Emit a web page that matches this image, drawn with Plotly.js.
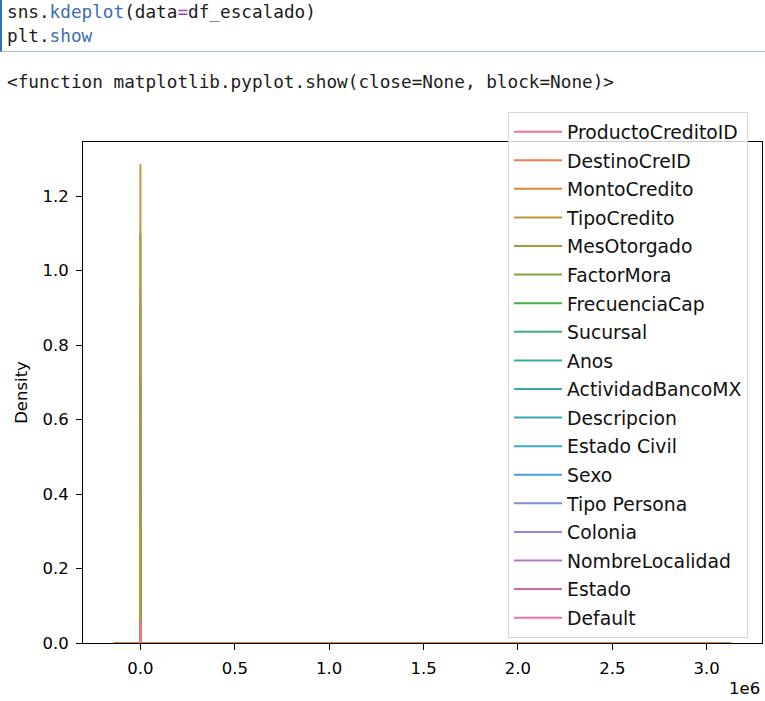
<!DOCTYPE html>
<html>
<head>
<meta charset="utf-8">
<script src="https://cdn.plot.ly/plotly-3.0.1.min.js"></script>
<style>
  html, body { margin:0; padding:0; background:#fff; }
  body { width:765px; height:701px; overflow:hidden; position:relative; }
  #plot { position:absolute; left:0; top:0; width:765px; height:701px; }
  .cell { position:absolute; left:0; top:0; width:765px; height:52px; box-sizing:border-box;
          border-left:2px solid #2a6fc9; border-bottom:1px solid #9fbde6; z-index:5; }
  .mono { position:absolute; left:7px; font-family:"DejaVu Sans Mono", monospace; font-size:17.7px;
          line-height:24px; color:#1b1b1b; white-space:pre; z-index:6; }
  .fn { color:#3b6db4; }
  .op { color:#a23fbf; }
</style>
</head>
<body>
<div id="plot"></div>
<div class="cell"></div>
<div class="mono" style="top:0px">sns.<span class="fn">kdeplot</span>(data<span class="op">=</span>df_escalado)</div>
<div class="mono" style="top:24px">plt.<span class="fn">show</span></div>
<div class="mono" style="top:70px">&lt;function matplotlib.pyplot.show(close=None, block=None)&gt;</div>
<script>
// ---- Data ----
const seriesNames = ["ProductoCreditoID","DestinoCreID","MontoCredito","TipoCredito","MesOtorgado",
  "FactorMora","FrecuenciaCap","Sucursal","Anos","ActividadBancoMX","Descripcion","Estado Civil",
  "Sexo","Tipo Persona","Colonia","NombreLocalidad","Estado","Default"];

// standardized columns: grid of scaled values (tiny on a 1e6 axis) and their densities
const zGrid = [-3, -2, -1, 0, 1, 2, 3];
const densProductoCreditoID = [0, 0.01, 0.03, 0.06, 0.03, 0.01, 0];
const densDestinoCreID      = [0, 0.01, 0.03, 0.05, 0.03, 0.01, 0];
const densTipoCredito       = [0, 0.02, 0.30, 1.285, 0.25, 0.02, 0];
const densMesOtorgado       = [0, 0.05, 0.22, 0.35, 0.22, 0.05, 0];
const densFactorMora        = [0, 0.04, 0.40, 0.90, 0.30, 0.03, 0];
const densFrecuenciaCap     = [0, 0.03, 0.45, 1.10, 0.35, 0.02, 0];
const densSucursal          = [0, 0.06, 0.28, 0.42, 0.26, 0.05, 0];
const densAnos              = [0, 0.06, 0.26, 0.40, 0.25, 0.07, 0];
const densActividadBancoMX  = [0, 0.04, 0.30, 0.60, 0.28, 0.04, 0];
const densDescripcion       = [0, 0.04, 0.31, 0.60, 0.27, 0.04, 0];
const densEstadoCivil       = [0, 0.05, 0.28, 0.50, 0.30, 0.05, 0];
const densSexo              = [0, 0.02, 0.40, 0.95, 0.40, 0.02, 0];
const densTipoPersona       = [0, 0.03, 0.10, 0.17, 0.12, 0.03, 0];
const densColonia           = [0, 0.06, 0.24, 0.33, 0.22, 0.06, 0];
const densNombreLocalidad   = [0, 0.07, 0.22, 0.30, 0.21, 0.06, 0];
const densEstado            = [0, 0.04, 0.35, 0.70, 0.33, 0.04, 0];
const densDefault           = [0, 0.02, 0.30, 0.90, 0.25, 0.02, 0];

// MontoCredito was left unscaled: spans about -0.14e6 .. 3.13e6 with a near-zero density
const xMontoCredito    = [-140500, 0, 250000, 500000, 1000000, 1500000, 2000000, 2500000, 3130000];
const densMontoCredito = [0, 1.6e-6, 1.2e-6, 6e-7, 2e-7, 8e-8, 3e-8, 1e-8, 0];

const xTickVals = [0, 500000, 1000000, 1500000, 2000000, 2500000, 3000000];
const xTickText = ["0.0","0.5","1.0","1.5","2.0","2.5","3.0"];
const yTickVals = [0, 0.2, 0.4, 0.6, 0.8, 1.0, 1.2];
const yTickText = ["0.0","0.2","0.4","0.6","0.8","1.0","1.2"];

const densities = [densProductoCreditoID, densDestinoCreID, densMontoCredito, densTipoCredito,
  densMesOtorgado, densFactorMora, densFrecuenciaCap, densSucursal, densAnos, densActividadBancoMX,
  densDescripcion, densEstadoCivil, densSexo, densTipoPersona, densColonia, densNombreLocalidad,
  densEstado, densDefault];

// line colours as they appear in the picture (seaborn husl-like palette)
const palette = ["#f77189","#f47a50","#d8873a","#c1943a","#a39b3a","#83a43a","#46ae46","#38ad80",
  "#36ad9f","#36aba9","#38a9b8","#3ba7c8","#42a0dc","#7e8fd2","#9b84cc","#b07ac2","#cc6cab","#f070a8"];

// ---- traces: drawn in reverse order (first column on top), legend in normal order ----
const nCol = seriesNames.length;
const traces = [];
for (let i = nCol - 1; i >= 0; i--) {
  const isMonto = seriesNames[i] === "MontoCredito";
  traces.push({
    type: "scatter", mode: "lines",
    name: seriesNames[i],
    legendgroup: "g" + i,
    legendrank: 1000 + i,
    x: isMonto ? xMontoCredito : zGrid,
    y: densities[i],
    line: { color: palette[i], width: 2 },
    hoverinfo: "skip"
  });
}

const tickFont = { family: "DejaVu Sans", size: 16.5, color: "#000" };
const layout = {
  width: 765, height: 701,
  margin: { l: 83, r: 3, t: 142, b: 58, pad: 0 },
  paper_bgcolor: "rgba(0,0,0,0)", plot_bgcolor: "#fff",
  showlegend: true,
  xaxis: {
    range: [-304000, 3293000], tickvals: xTickVals, ticktext: xTickText,
    showgrid: false, zeroline: false, showline: true, mirror: true,
    linecolor: "#000", linewidth: 1, ticks: "outside", ticklen: 6, tickwidth: 1, tickcolor: "#000",
    tickfont: tickFont, layer: "below traces", ticklabelstandoff: 4
  },
  yaxis: {
    range: [0, 1.345], tickvals: yTickVals, ticktext: yTickText,
    showgrid: false, zeroline: false, showline: true, mirror: true,
    linecolor: "#000", linewidth: 1, ticks: "outside", ticklen: 6, tickwidth: 1, tickcolor: "#000",
    tickfont: tickFont, layer: "below traces", ticklabelstandoff: 4,
    title: { text: "Density", font: { family: "DejaVu Sans", size: 16.5, color: "#000" }, standoff: 10 }
  },
  legend: {
    x: 0.626, y: 1.06, xanchor: "left", yanchor: "top",
    bgcolor: "rgba(255,255,255,0.8)", bordercolor: "#d6d6d6", borderwidth: 1,
    font: { family: "DejaVu Sans", size: 18.8, color: "#111" },
    traceorder: "grouped", tracegroupgap: 1.15, itemwidth: 48, maxheight: 680,
    entrywidth: 243, entrywidthmode: "pixels"
  },
  annotations: [{
    text: "1e6", xref: "paper", yref: "paper", x: 1, y: -0.09, xanchor: "right", yanchor: "middle",
    showarrow: false, font: tickFont
  }]
};

Plotly.newPlot("plot", traces, layout, { staticPlot: true, displayModeBar: false });
</script>
</body>
</html>
